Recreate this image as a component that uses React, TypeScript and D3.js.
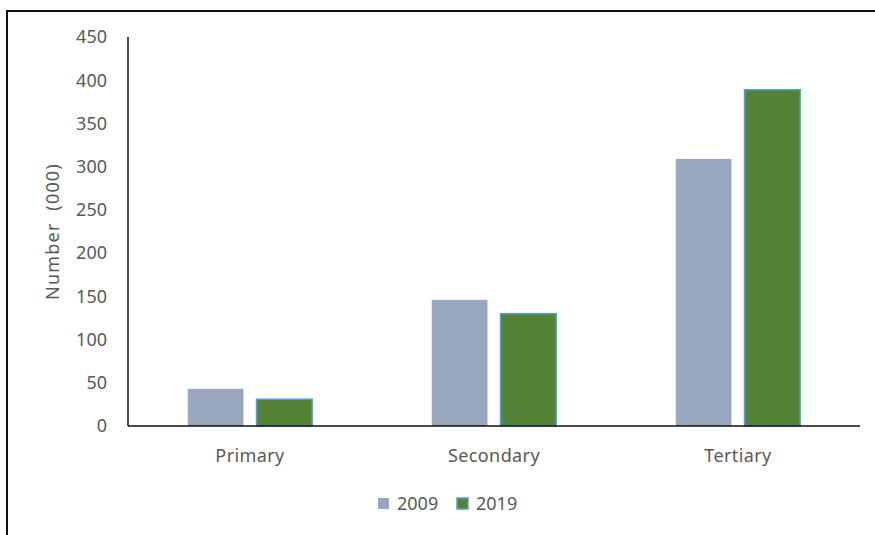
import * as d3 from "d3";
import { useEffect, useRef } from "react";

const categories = ["Primary", "Secondary", "Tertiary"];
const seriesNames = ["2009", "2019"];
const values2009 = [43, 146, 309];
const values2019 = [31, 130, 389];
const yTicks = [0, 50, 100, 150, 200, 250, 300, 350, 400, 450];

const textColor = "#595959";
const font = "'Noto Sans', sans-serif";

export default function App() {
  const ref = useRef(null);

  useEffect(() => {
    if (!ref.current) return;
    const svg = d3.select(ref.current);
    svg.selectAll("*").remove();

    const width = 875;
    const height = 535;
    const left = 128;
    const right = 860;
    const top = 37;
    const bottom = 426;

    svg.attr("width", width).attr("height", height);

    // frame (only top & left visible in the crop)
    svg.append("line").attr("x1", 7).attr("x2", width).attr("y1", 11).attr("y2", 11)
      .attr("stroke", "#111").attr("stroke-width", 2);
    svg.append("line").attr("x1", 7).attr("x2", 7).attr("y1", 10).attr("y2", height)
      .attr("stroke", "#111").attr("stroke-width", 2);

    const y = d3.scaleLinear().domain([0, 450]).range([bottom, top]);
    const x0 = d3.scaleBand().domain(categories).range([left, right])
      .paddingInner(0.49).paddingOuter(0.245);
    const x1 = d3.scaleBand().domain(seriesNames).range([0, x0.bandwidth()]).paddingInner(0.19);

    const rows = categories.map((c, i) => ({ cat: c, vals: [values2009[i], values2019[i]] }));

    const g = svg.append("g");
    const groups = g.selectAll("g.cat").data(rows).join("g")
      .attr("transform", (d) => `translate(${x0(d.cat)},0)`);

    groups.selectAll("rect")
      .data((d) => d.vals.map((v, i) => ({ key: seriesNames[i], v })))
      .join("rect")
      .attr("x", (d) => x1(d.key)!)
      .attr("width", x1.bandwidth())
      .attr("y", (d) => y(d.v))
      .attr("height", (d) => bottom - y(d.v))
      .attr("fill", (d) => (d.key === "2009" ? "#98A7BE" : "#548235"))
      .attr("stroke", (d) => (d.key === "2009" ? "none" : "#5B9BD5"))
      .attr("stroke-width", 1.5);

    // y axis labels
    g.selectAll("text.ytick").data(yTicks).join("text")
      .attr("x", 107)
      .attr("y", (d) => y(d))
      .attr("dy", "0.35em")
      .attr("text-anchor", "end")
      .attr("fill", textColor)
      .style("font-family", font)
      .style("font-size", "18px")
      .text((d) => d);

    // axis lines
    g.append("line").attr("x1", left).attr("x2", left).attr("y1", top).attr("y2", bottom)
      .attr("stroke", "#111").attr("stroke-width", 1.5);
    g.append("line").attr("x1", left).attr("x2", right).attr("y1", bottom).attr("y2", bottom)
      .attr("stroke", "#111").attr("stroke-width", 1.5);

    // category labels
    g.selectAll("text.cat").data(categories).join("text")
      .attr("x", (d) => x0(d)! + x0.bandwidth() / 2)
      .attr("y", 462)
      .attr("text-anchor", "middle")
      .attr("fill", textColor)
      .style("font-family", font)
      .style("font-size", "18px")
      .style("letter-spacing", "0.4px")
      .text((d) => d);

    // y title
    svg.append("text")
      .attr("transform", `translate(59,${(top + bottom) / 2}) rotate(-90)`)
      .attr("text-anchor", "middle")
      .attr("fill", textColor)
      .style("font-family", font)
      .style("font-size", "18px")
      .style("letter-spacing", "1.2px")
      .style("white-space", "pre")
      .text("Number  (000)");

    // legend
    const legendX = [378, 457];
    const leg = svg.append("g");
    seriesNames.forEach((s, i) => {
      leg.append("rect")
        .attr("x", legendX[i]).attr("y", 498).attr("width", 11).attr("height", 11)
        .attr("fill", s === "2009" ? "#98A7BE" : "#548235")
        .attr("stroke", s === "2009" ? "none" : "#5B9BD5")
        .attr("stroke-width", 1.5);
      leg.append("text")
        .attr("x", legendX[i] + 19).attr("y", 510)
        .attr("fill", textColor)
        .style("font-family", font)
        .style("font-size", "18px")
        .text(s);
    });
  }, []);

  return (
    <svg ref={ref} style={{ position: "absolute", left: 0, top: 0, background: "#fff" }} />
  );
}
